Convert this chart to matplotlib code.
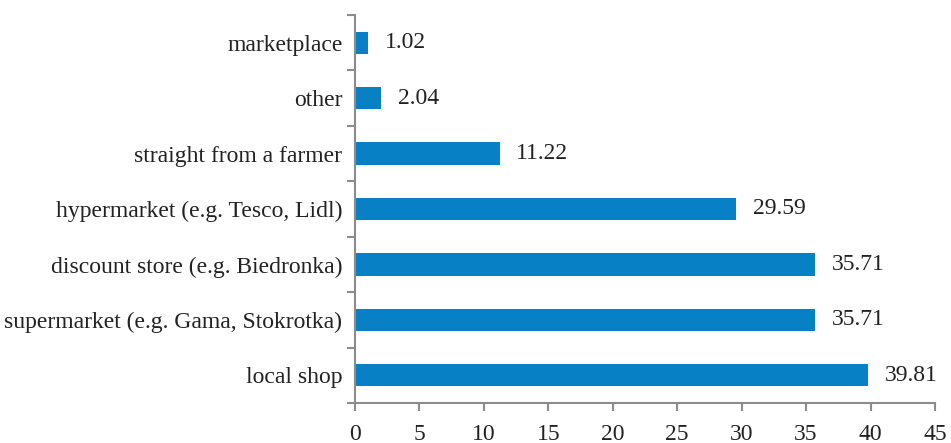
import matplotlib.pyplot as plt
import numpy as np

categories = ["local shop", "supermarket (e.g. Gama, Stokrotka)",
              "discount store (e.g. Biedronka)", "hypermarket (e.g. Tesco, Lidl)",
              "straight from a farmer", "other", "marketplace"]
values = [39.81, 35.71, 35.71, 29.59, 11.22, 2.04, 1.02]
labels = ["39.81", "35.71", "35.71", "29.59", "11.22", "2.04", "1.02"]

plt.rcParams['font.family'] = ['Liberation Serif', 'DejaVu Serif']
grey = "#8c8c8c"
txt = "#222222"
fs = 17

fig = plt.figure(figsize=(9.51, 4.43), dpi=100)
ax = fig.add_axes([355 / 951, 40 / 443, 580 / 951, 388 / 443])

y = np.arange(len(categories))
ax.barh(y, values, height=0.4, color="#0880c6")
for yi, v, lab in zip(y, values, labels):
    ax.annotate(lab, (v, yi), xytext=(12, 0), textcoords="offset points",
                va="center", ha="left", fontsize=fs, color=txt)

ax.set_xlim(0, 45)
ax.set_ylim(-0.5, len(categories) - 0.5)
ax.set_xticks(np.arange(0, 46, 5))
ax.set_yticks(y)
ax.set_yticklabels(categories)
ax.set_yticks(np.arange(-0.5, len(categories), 1), minor=True)

for s in ["top", "right"]:
    ax.spines[s].set_visible(False)
for s in ["left", "bottom"]:
    ax.spines[s].set_color(grey)
    ax.spines[s].set_linewidth(1.5)

ax.tick_params(axis="y", which="major", length=0, pad=9, labelsize=fs, labelcolor=txt)
ax.tick_params(axis="y", which="minor", length=6, width=1.5, color=grey)
ax.tick_params(axis="x", which="major", length=6, width=1.5, color=grey, pad=9,
               labelsize=fs, labelcolor=txt)

fig.savefig("out.png", dpi=100)
